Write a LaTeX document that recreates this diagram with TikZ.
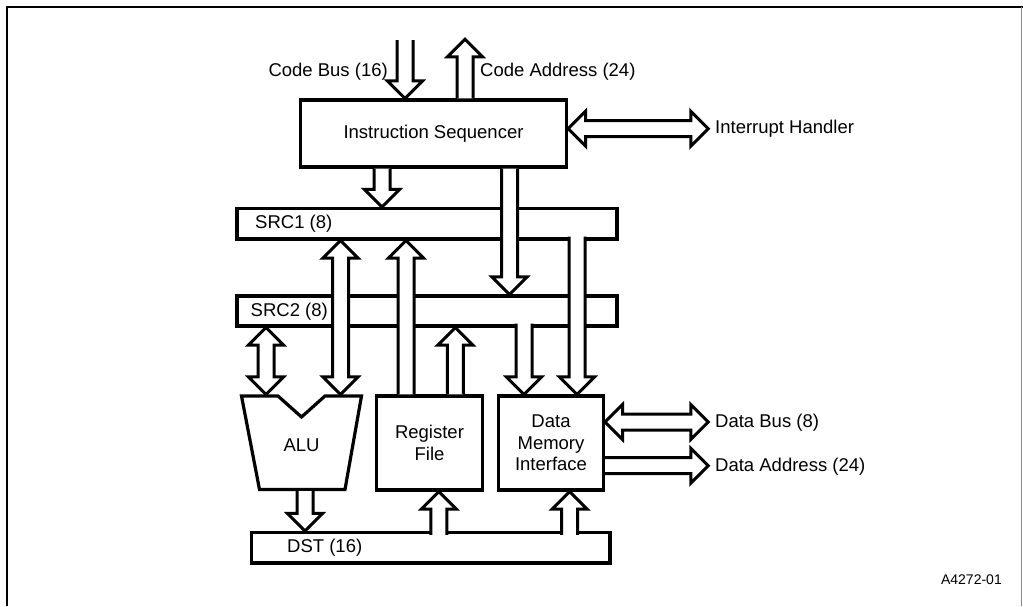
\documentclass[tikz,border=0pt]{standalone}
\usepackage{fontspec}
\setmainfont{Liberation Sans}
\usetikzlibrary{calc}

% block-arrow geometry (pt): shaft half width, head half width, head length
\newcommand\bhw{8}
\newcommand\bhh{17.5}
\newcommand\bhl{17.5}
% point #1 along the connector and #2 across it (used inside the let below)
\newcommand\ap[2]{({\x1+(#1)*\n3-(#2)*\n4},{\y1+(#1)*\n4+(#2)*\n3})}

\tikzset{
  unit/.style={draw, line width=3.2pt, fill=white, rectangle, inner sep=0pt,
    outer sep=1.6pt, align=center, font=\fontsize{18.5}{21.5}\selectfont},
  lbl/.style={inner sep=0pt, font=\fontsize{18.5}{21.5}\selectfont},
  busline/.style={draw, line width=3pt, line join=miter, fill=white},
  % single-headed bus arrow, open at its tail
  bus/.style={busline, to path={
    let \p1=(\tikztostart), \p2=(\tikztotarget),
        \n1={veclen(\x2-\x1,\y2-\y1)},
        \n3={(\x2-\x1)/\n1}, \n4={(\y2-\y1)/\n1} in
    \ap{0}{\bhw} -- \ap{\n1-\bhl}{\bhw} -- \ap{\n1-\bhl}{\bhh} -- \ap{\n1}{0}
    -- \ap{\n1-\bhl}{-\bhh} -- \ap{\n1-\bhl}{-\bhw} -- \ap{0}{-\bhw}}},
  % double-headed bus arrow
  dbus/.style={busline, to path={
    let \p1=(\tikztostart), \p2=(\tikztotarget),
        \n1={veclen(\x2-\x1,\y2-\y1)},
        \n3={(\x2-\x1)/\n1}, \n4={(\y2-\y1)/\n1} in
    \ap{0}{0} -- \ap{\bhl}{\bhh} -- \ap{\bhl}{\bhw} -- \ap{\n1-\bhl}{\bhw}
    -- \ap{\n1-\bhl}{\bhh} -- \ap{\n1}{0} -- \ap{\n1-\bhl}{-\bhh}
    -- \ap{\n1-\bhl}{-\bhw} -- \ap{\bhl}{-\bhw} -- \ap{\bhl}{-\bhh} -- cycle}}
}

\begin{document}
\begin{tikzpicture}[x=1pt, y=-1pt]
\useasboundingbox (0,0) rectangle (1023,606);

% frame
\draw[line width=2pt] (6.5,606) -- (6.5,6.5) -- (1023,6.5);
\draw[line width=1.2pt, black!45] (1021.5,6.5) -- (1021.5,606);

% functional units and buses
\node[unit, minimum width=266pt, minimum height=67pt] (is) at (433.5,133.5) {Instruction Sequencer};
\node[unit, minimum width=380pt, minimum height=30.5pt] (src1) at (427,223.75) {};
\node[unit, minimum width=380pt, minimum height=30pt] (src2) at (427,311) {};
\node[unit, minimum width=106pt, minimum height=94pt] (rf) at (429.5,443) {Register\\File};
\node[unit, minimum width=105pt, minimum height=94pt] (dmi) at (551,443) {Data\\Memory\\Interface};
\node[unit, minimum width=358.5pt, minimum height=30.5pt] (dst) at (430.75,547.75) {};

% ALU outline with its input notch
\draw[line width=3.2pt, line join=miter, fill=white]
  (241.5,396) -- (278,396) -- (301.5,417) -- (325,396) -- (361.5,396)
  -- (345,489.5) -- (259.5,489.5) -- cycle;
\node[lbl] (alu) at (301.5,445) {ALU};
\coordinate (alutop) at (301.5,394.4);
\coordinate (alubot) at (301.5,491.1);

% bus labels
\node[lbl, anchor=west] (src1lbl) at (255,223.5) {SRC1 (8)};
\node[lbl, anchor=west] (src2lbl) at (250.5,311.5) {SRC2 (8)};
\node[lbl, anchor=west] (dstlbl) at (287,548) {DST (16)};

% free ends of the external buses
\coordinate (cbtop) at (405,40);
\coordinate (catop) at (465,39.3);
\coordinate (intend) at (708.3,128.7);
\coordinate (dbend) at (708.3,422);
\coordinate (daend) at (708.3,465.7);

% external connections
\draw[bus] (cbtop) to (405,0 |- is.north);
\draw[bus] (465,0 |- is.north) to (catop);
\draw[dbus] (is.east |- intend) to (intend);
\draw[dbus] (dmi.east |- dbend) to (dbend);
\draw[bus] (dmi.east |- daend) to (daend);

% sequencer outputs
\draw[bus] (382,0 |- is.south) to (382,0 |- src1.north);
\draw[bus] (509.5,0 |- is.south) to (509.5,0 |- src2.north);

% source buses to the data memory interface
\draw[bus] ($(577,0 |- src1.south)+(0,-4)$) to (577,0 |- dmi.north);
\draw[bus] ($(524,0 |- src2.south)+(0,-4)$) to (524,0 |- dmi.north);

% ALU operands
\draw[dbus] (340.5,0 |- alutop) to (340.5,0 |- src1.south);
\draw[dbus] (266,0 |- alutop) to (266,0 |- src2.south);

% register file outputs
\draw[bus] (406,0 |- rf.north) to (406,0 |- src1.south);
\draw[bus] (455.3,0 |- rf.north) to (455.3,0 |- src2.south);

% destination bus
\draw[bus] (305,0 |- alubot) to (305,0 |- dst.north);
\draw[bus] ($(438.8,0 |- dst.north)+(0,4)$) to (438.8,0 |- rf.south);
\draw[bus] ($(569.7,0 |- dst.north)+(0,4)$) to (569.7,0 |- dmi.south);

% external labels
\node[lbl, anchor=east] (cblbl) at (388,72) {Code Bus (16)};
\node[lbl, anchor=west] (calbl) at (480,72) {Code Address (24)};
\node[lbl, anchor=west] (intlbl) at (715,128.5) {Interrupt Handler};
\node[lbl, anchor=west] (dblbl) at (715,423) {Data Bus (8)};
\node[lbl, anchor=west] (dalbl) at (715,467) {Data Address (24)};

% figure number
\node[inner sep=0pt, anchor=east, font=\fontsize{14}{16}\selectfont] (fig) at (1002,580) {A4272-01};
\end{tikzpicture}
\end{document}
